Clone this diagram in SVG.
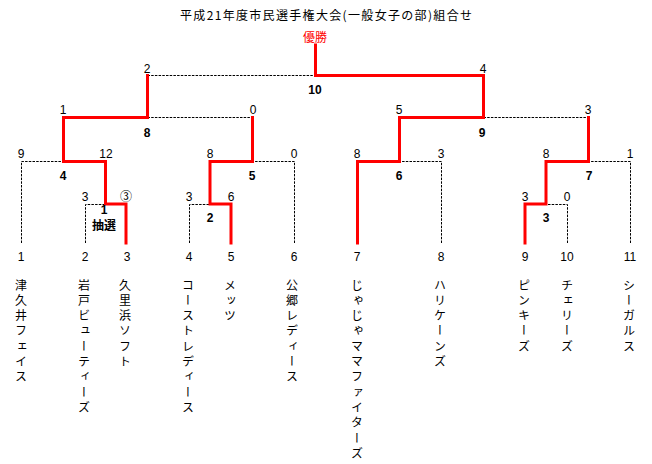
<svg xmlns="http://www.w3.org/2000/svg" width="652" height="464" viewBox="0 0 652 464">
<style>
.bg{fill:#fff}
.d{stroke:#000;stroke-width:1;stroke-dasharray:2.5,1.2;fill:none}
.r{stroke:#f00;stroke-width:3;fill:none;stroke-linecap:square;stroke-linejoin:miter}
.n{font-family:"Liberation Sans","Noto Sans CJK JP",sans-serif;font-size:12px;fill:#000;text-anchor:middle}
.b{font-family:"Liberation Sans","Noto Sans CJK JP",sans-serif;font-size:12px;font-weight:bold;fill:#000;text-anchor:middle}
.j{font-family:"Noto Sans CJK JP",sans-serif;font-size:12px;fill:#000}
.v{font-family:"Noto Sans CJK JP",sans-serif;font-size:12px;fill:#000;writing-mode:vertical-rl;letter-spacing:3.3px}
</style>
<rect class="bg" width="652" height="464"/>
<g id="title">
<text class="j" x="326" y="19.5" text-anchor="middle" font-size="13" textLength="292">平成21年度市民選手権大会(一般女子の部)組合せ</text>
<text class="j" x="315" y="42" text-anchor="middle" style="fill:#f00">優勝</text>
</g>
<g id="connectors">
<path class="d" d="M21.5,243V161.5H63.5 M85.5,243V204.5H105.5 M189.5,243V204.5H210 M294.5,243V161.5H252.5 M441.5,243V161.5H399.5 M567.5,243V204.5H546 M630.5,243V161.5H588.5 M147.5,117.5H252.5 M483.5,117.5H588.5 M147.5,75.5H315.5"/>
<path class="r" d="M126,243V204H105.5V161.5H63.5V117.5H147.5V75.5"/>
<path class="r" d="M231,243V204H210V161.5H252.5V117.5"/>
<path class="r" d="M357.5,243V161.5H399.5V117.5H483.5V75.5H315.5V45"/>
<path class="r" d="M525,243V204H546V161.5H588.5V117.5"/>
</g>
<g id="team1"><text class="n" x="21" y="260.5">1</text><text class="v" x="21" y="279">津久井フェイス</text></g>
<g id="team2"><text class="n" x="85" y="260.5">2</text><text class="v" x="84" y="279">岩戸ビューティーズ</text></g>
<g id="team3"><text class="n" x="127" y="260.5">3</text><text class="v" x="125" y="279">久里浜ソフト</text></g>
<g id="team4"><text class="n" x="189" y="260.5">4</text><text class="v" x="188" y="279">コーストレディース</text></g>
<g id="team5"><text class="n" x="231" y="260.5">5</text><text class="v" x="230" y="279">メッツ</text></g>
<g id="team6"><text class="n" x="294" y="260.5">6</text><text class="v" x="292" y="279">公郷レディース</text></g>
<g id="team7"><text class="n" x="357" y="260.5">7</text><text class="v" x="357" y="279">じゃじゃママファイターズ</text></g>
<g id="team8"><text class="n" x="441" y="260.5">8</text><text class="v" x="440" y="279">ハリケーンズ</text></g>
<g id="team9"><text class="n" x="525" y="260.5">9</text><text class="v" x="524" y="279">ピンキーズ</text></g>
<g id="team10"><text class="n" x="567" y="260.5">10</text><text class="v" x="567" y="279">チェリーズ</text></g>
<g id="team11"><text class="n" x="630" y="260.5">11</text><text class="v" x="629" y="279">シーガルス</text></g>
<g id="match1"><text class="n" x="85" y="200.5">3</text><text class="j" x="126" y="201" text-anchor="middle" font-size="13">③</text><text class="b" x="104" y="214">1</text><text class="j" x="104" y="230" text-anchor="middle" font-weight="bold">抽選</text></g>
<g id="match2"><text class="n" x="189" y="200.5">3</text><text class="n" x="231" y="200.5">6</text><text class="b" x="210" y="221.5">2</text></g>
<g id="match3"><text class="n" x="525" y="200.5">3</text><text class="n" x="567" y="200.5">0</text><text class="b" x="546" y="221.5">3</text></g>
<g id="match4"><text class="n" x="21" y="157.5">9</text><text class="n" x="106" y="157.5">12</text><text class="b" x="63" y="179.5">4</text></g>
<g id="match5"><text class="n" x="210" y="157.5">8</text><text class="n" x="294" y="157.5">0</text><text class="b" x="252" y="179.5">5</text></g>
<g id="match6"><text class="n" x="357" y="157.5">8</text><text class="n" x="441" y="157.5">3</text><text class="b" x="399" y="179.5">6</text></g>
<g id="match7"><text class="n" x="546" y="157.5">8</text><text class="n" x="630" y="157.5">1</text><text class="b" x="589" y="179.5">7</text></g>
<g id="match8"><text class="n" x="63" y="114">1</text><text class="n" x="253" y="114">0</text><text class="b" x="147" y="136.5">8</text></g>
<g id="match9"><text class="n" x="399" y="114">5</text><text class="n" x="588" y="114">3</text><text class="b" x="482" y="136.5">9</text></g>
<g id="match10"><text class="n" x="147" y="72.5">2</text><text class="n" x="483" y="72.5">4</text><text class="b" x="315" y="93.5">10</text></g>
</svg>
